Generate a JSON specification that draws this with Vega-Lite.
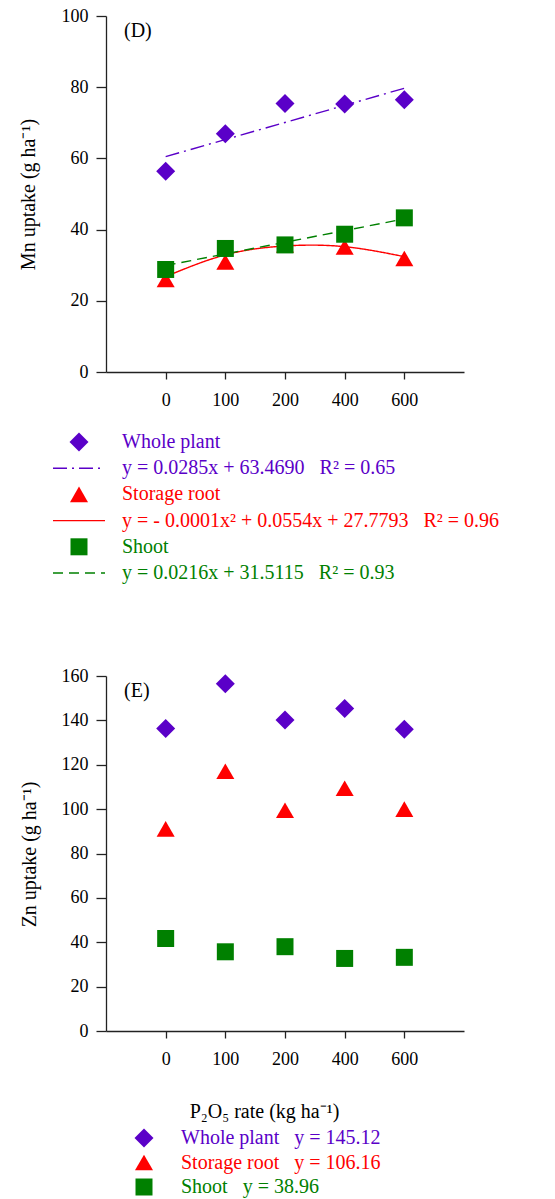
{
  "$schema": "https://vega.github.io/schema/vega-lite/v6.json",
  "padding": {"left": 18, "top": 7, "right": 0, "bottom": 0},
  "spacing": 0,
  "bounds": "flush",
  "config": {
    "view": {"stroke": null},
    "font": "Liberation Serif",
    "axis": {
      "grid": false,
      "domainColor": "#222222",
      "tickColor": "#222222",
      "domainWidth": 1.3,
      "tickWidth": 1.3,
      "labelColor": "#000000",
      "titleColor": "#000000",
      "labelFont": "Liberation Serif",
      "titleFont": "Liberation Serif",
      "labelFontSize": 18,
      "titleFontSize": 20,
      "titleFontWeight": "normal"
    }
  },
  "datasets": {
    "mn": [
      {"rate": 0, "part": "Whole plant", "uptake": 56.4},
      {"rate": 100, "part": "Whole plant", "uptake": 66.9},
      {"rate": 200, "part": "Whole plant", "uptake": 75.4},
      {"rate": 400, "part": "Whole plant", "uptake": 75.3},
      {"rate": 600, "part": "Whole plant", "uptake": 76.5},
      {"rate": 0, "part": "Storage root", "uptake": 26.0},
      {"rate": 100, "part": "Storage root", "uptake": 30.9},
      {"rate": 200, "part": "Storage root", "uptake": 35.7},
      {"rate": 400, "part": "Storage root", "uptake": 35.1},
      {"rate": 600, "part": "Storage root", "uptake": 31.9},
      {"rate": 0, "part": "Shoot", "uptake": 28.8},
      {"rate": 100, "part": "Shoot", "uptake": 34.7},
      {"rate": 200, "part": "Shoot", "uptake": 35.7},
      {"rate": 400, "part": "Shoot", "uptake": 38.7},
      {"rate": 600, "part": "Shoot", "uptake": 43.3}
    ],
    "mnfit": [
      {"rate": 0, "part": "Whole plant", "uptake": 60.5},
      {"rate": 600, "part": "Whole plant", "uptake": 79.7},
      {"rate": 0, "part": "Storage root", "uptake": 26.8},
      {"rate": 100, "part": "Storage root", "uptake": 32.9},
      {"rate": 200, "part": "Storage root", "uptake": 35.4},
      {"rate": 400, "part": "Storage root", "uptake": 35.2},
      {"rate": 600, "part": "Storage root", "uptake": 32.4},
      {"rate": 0, "part": "Shoot", "uptake": 29.9},
      {"rate": 600, "part": "Shoot", "uptake": 43.0}
    ],
    "zn": [
      {"rate": 0, "part": "Whole plant", "uptake": 136.3},
      {"rate": 100, "part": "Whole plant", "uptake": 156.5},
      {"rate": 200, "part": "Whole plant", "uptake": 140.2},
      {"rate": 400, "part": "Whole plant", "uptake": 145.3},
      {"rate": 600, "part": "Whole plant", "uptake": 136.0},
      {"rate": 0, "part": "Storage root", "uptake": 91.1},
      {"rate": 100, "part": "Storage root", "uptake": 117.1},
      {"rate": 200, "part": "Storage root", "uptake": 99.5},
      {"rate": 400, "part": "Storage root", "uptake": 109.4},
      {"rate": 600, "part": "Storage root", "uptake": 100.0},
      {"rate": 0, "part": "Shoot", "uptake": 41.7},
      {"rate": 100, "part": "Shoot", "uptake": 35.7},
      {"rate": 200, "part": "Shoot", "uptake": 38.0},
      {"rate": 400, "part": "Shoot", "uptake": 32.7},
      {"rate": 600, "part": "Shoot", "uptake": 33.2}
    ],
    "legD": [
      {"row": 1, "kind": "marker", "part": "Whole plant", "label": "Whole plant"},
      {"row": 2, "kind": "line", "part": "Whole plant", "label": "y = 0.0285x + 63.4690\u00a0\u00a0\u00a0R² = 0.65"},
      {"row": 3, "kind": "marker", "part": "Storage root", "label": "Storage root"},
      {"row": 4, "kind": "line", "part": "Storage root", "label": "y = - 0.0001x² + 0.0554x + 27.7793\u00a0\u00a0\u00a0R² = 0.96"},
      {"row": 5, "kind": "marker", "part": "Shoot", "label": "Shoot"},
      {"row": 6, "kind": "line", "part": "Shoot", "label": "y = 0.0216x + 31.5115\u00a0\u00a0\u00a0R² = 0.93"}
    ],
    "legE": [
      {"row": 1, "part": "Whole plant", "label": "Whole plant\u00a0\u00a0\u00a0y = 145.12"},
      {"row": 2, "part": "Storage root", "label": "Storage root\u00a0\u00a0\u00a0y = 106.16"},
      {"row": 3, "part": "Shoot", "label": "Shoot\u00a0\u00a0\u00a0y = 38.96"}
    ]
  },
  "vconcat": [
    {
      "width": 358,
      "height": 356,
      "title": {"text": "(D)", "anchor": "start", "frame": "group", "orient": "top", "offset": 0, "dx": 18, "dy": 44, "baseline": "middle", "font": "Liberation Serif", "fontSize": 20, "fontWeight": "normal", "color": "#000000"},
      "layer": [
        {
          "data": {"name": "mnfit"},
          "mark": {"type": "line", "interpolate": "natural", "strokeWidth": 1.4},
          "encoding": {
            "x": {"field": "rate", "type": "ordinal", "scale": {"type": "point", "domain": [0, 100, 200, 400, 600], "padding": 1}, "axis": {"title": null, "labelAngle": 0, "tickSize": 7, "labelPadding": 12}},
            "y": {"field": "uptake", "type": "quantitative", "scale": {"domain": [0, 100], "nice": false}, "axis": {"title": "Mn uptake (g ha⁻¹)", "values": [0, 20, 40, 60, 80, 100], "tickSize": 10, "labelPadding": 8, "titleX": -78, "titleY": 178, "titleBaseline": "middle", "titleAlign": "center", "titleAngle": -90}},
            "color": {"field": "part", "type": "nominal", "scale": {"domain": ["Whole plant", "Storage root", "Shoot"], "range": ["#5a00c8", "#ff0000", "#008000"]}, "legend": null},
            "strokeDash": {"field": "part", "type": "nominal", "scale": {"domain": ["Whole plant", "Storage root", "Shoot"], "range": [[14, 5, 2, 5], [1, 0], [10, 6]]}, "legend": null}
          }
        },
        {
          "data": {"name": "mn"},
          "mark": {"type": "point", "filled": true, "opacity": 1},
          "encoding": {
            "x": {"field": "rate", "type": "ordinal"},
            "y": {"field": "uptake", "type": "quantitative"},
            "color": {"field": "part", "type": "nominal", "legend": null},
            "shape": {"field": "part", "type": "nominal", "scale": {"domain": ["Whole plant", "Storage root", "Shoot"], "range": ["diamond", "triangle-up", "square"]}, "legend": null},
            "size": {"field": "part", "type": "nominal", "scale": {"domain": ["Whole plant", "Storage root", "Shoot"], "range": [361, 289, 225]}, "legend": null}
          }
        }
      ]
    },
    {
      "width": 358,
      "height": 304,
      "data": {"name": "legD"},
      "encoding": {
        "y": {"field": "row", "type": "ordinal", "scale": {"type": "point", "range": [70, 201], "padding": 0}, "axis": null}
      },
      "layer": [
        {
          "transform": [{"filter": "datum.kind === 'marker'"}],
          "mark": {"type": "point", "filled": true, "opacity": 1},
          "encoding": {
            "x": {"datum": "sym", "type": "ordinal", "scale": {"type": "point", "domain": ["sym", "txt"], "range": [-27, 16], "padding": 0}, "axis": null},
            "color": {"field": "part", "type": "nominal", "legend": null},
            "shape": {"field": "part", "type": "nominal", "legend": null},
            "size": {"field": "part", "type": "nominal", "legend": null}
          }
        },
        {
          "transform": [{"filter": "datum.kind === 'line'"}],
          "mark": {"type": "point", "filled": false, "opacity": 1, "shape": "M-1,0L1,0", "size": 2704, "strokeWidth": 1.4},
          "encoding": {
            "x": {"datum": "sym", "type": "ordinal"},
            "color": {"field": "part", "type": "nominal", "legend": null},
            "strokeDash": {"field": "part", "type": "nominal", "legend": null}
          }
        },
        {
          "mark": {"type": "text", "align": "left", "baseline": "middle", "font": "Liberation Serif", "fontSize": 20},
          "encoding": {
            "x": {"datum": "txt", "type": "ordinal"},
            "text": {"field": "label"},
            "color": {"field": "part", "type": "nominal", "legend": null}
          }
        }
      ]
    },
    {
      "width": 358,
      "height": 355,
      "title": {"text": "(E)", "anchor": "start", "frame": "group", "orient": "top", "offset": 0, "dx": 18, "dy": 44, "baseline": "middle", "font": "Liberation Serif", "fontSize": 20, "fontWeight": "normal", "color": "#000000"},
      "data": {"name": "zn"},
      "mark": {"type": "point", "filled": true, "opacity": 1},
      "encoding": {
        "x": {"field": "rate", "type": "ordinal", "scale": {"type": "point", "domain": [0, 100, 200, 400, 600], "padding": 1}, "axis": {"title": "P₂O₅ rate (kg ha⁻¹)", "labelAngle": 0, "tickSize": 7, "labelPadding": 12, "titleFontSize": 20, "titleX": 158, "titleY": 86, "titleBaseline": "alphabetic", "titleAlign": "center"}},
        "y": {"field": "uptake", "type": "quantitative", "scale": {"domain": [0, 160], "nice": false}, "axis": {"title": "Zn uptake (g ha⁻¹)", "values": [0, 20, 40, 60, 80, 100, 120, 140, 160], "tickSize": 10, "labelPadding": 8, "titleX": -77, "titleY": 178, "titleBaseline": "middle", "titleAlign": "center", "titleAngle": -90}},
        "color": {"field": "part", "type": "nominal", "legend": null},
        "shape": {"field": "part", "type": "nominal", "legend": null},
        "size": {"field": "part", "type": "nominal", "legend": null}
      }
    },
    {
      "width": 358,
      "height": 168,
      "data": {"name": "legE"},
      "encoding": {
        "y": {"field": "row", "type": "ordinal", "scale": {"type": "point", "range": [107, 156], "padding": 0}, "axis": null}
      },
      "layer": [
        {
          "mark": {"type": "point", "filled": true, "opacity": 1},
          "encoding": {
            "x": {"datum": "sym", "type": "ordinal", "scale": {"type": "point", "domain": ["sym", "txt"], "range": [38, 75], "padding": 0}, "axis": null},
            "color": {"field": "part", "type": "nominal", "legend": null},
            "shape": {"field": "part", "type": "nominal", "legend": null},
            "size": {"field": "part", "type": "nominal", "legend": null}
          }
        },
        {
          "mark": {"type": "text", "align": "left", "baseline": "middle", "font": "Liberation Serif", "fontSize": 20},
          "encoding": {
            "x": {"datum": "txt", "type": "ordinal"},
            "text": {"field": "label"},
            "color": {"field": "part", "type": "nominal", "legend": null}
          }
        }
      ]
    }
  ]
}
